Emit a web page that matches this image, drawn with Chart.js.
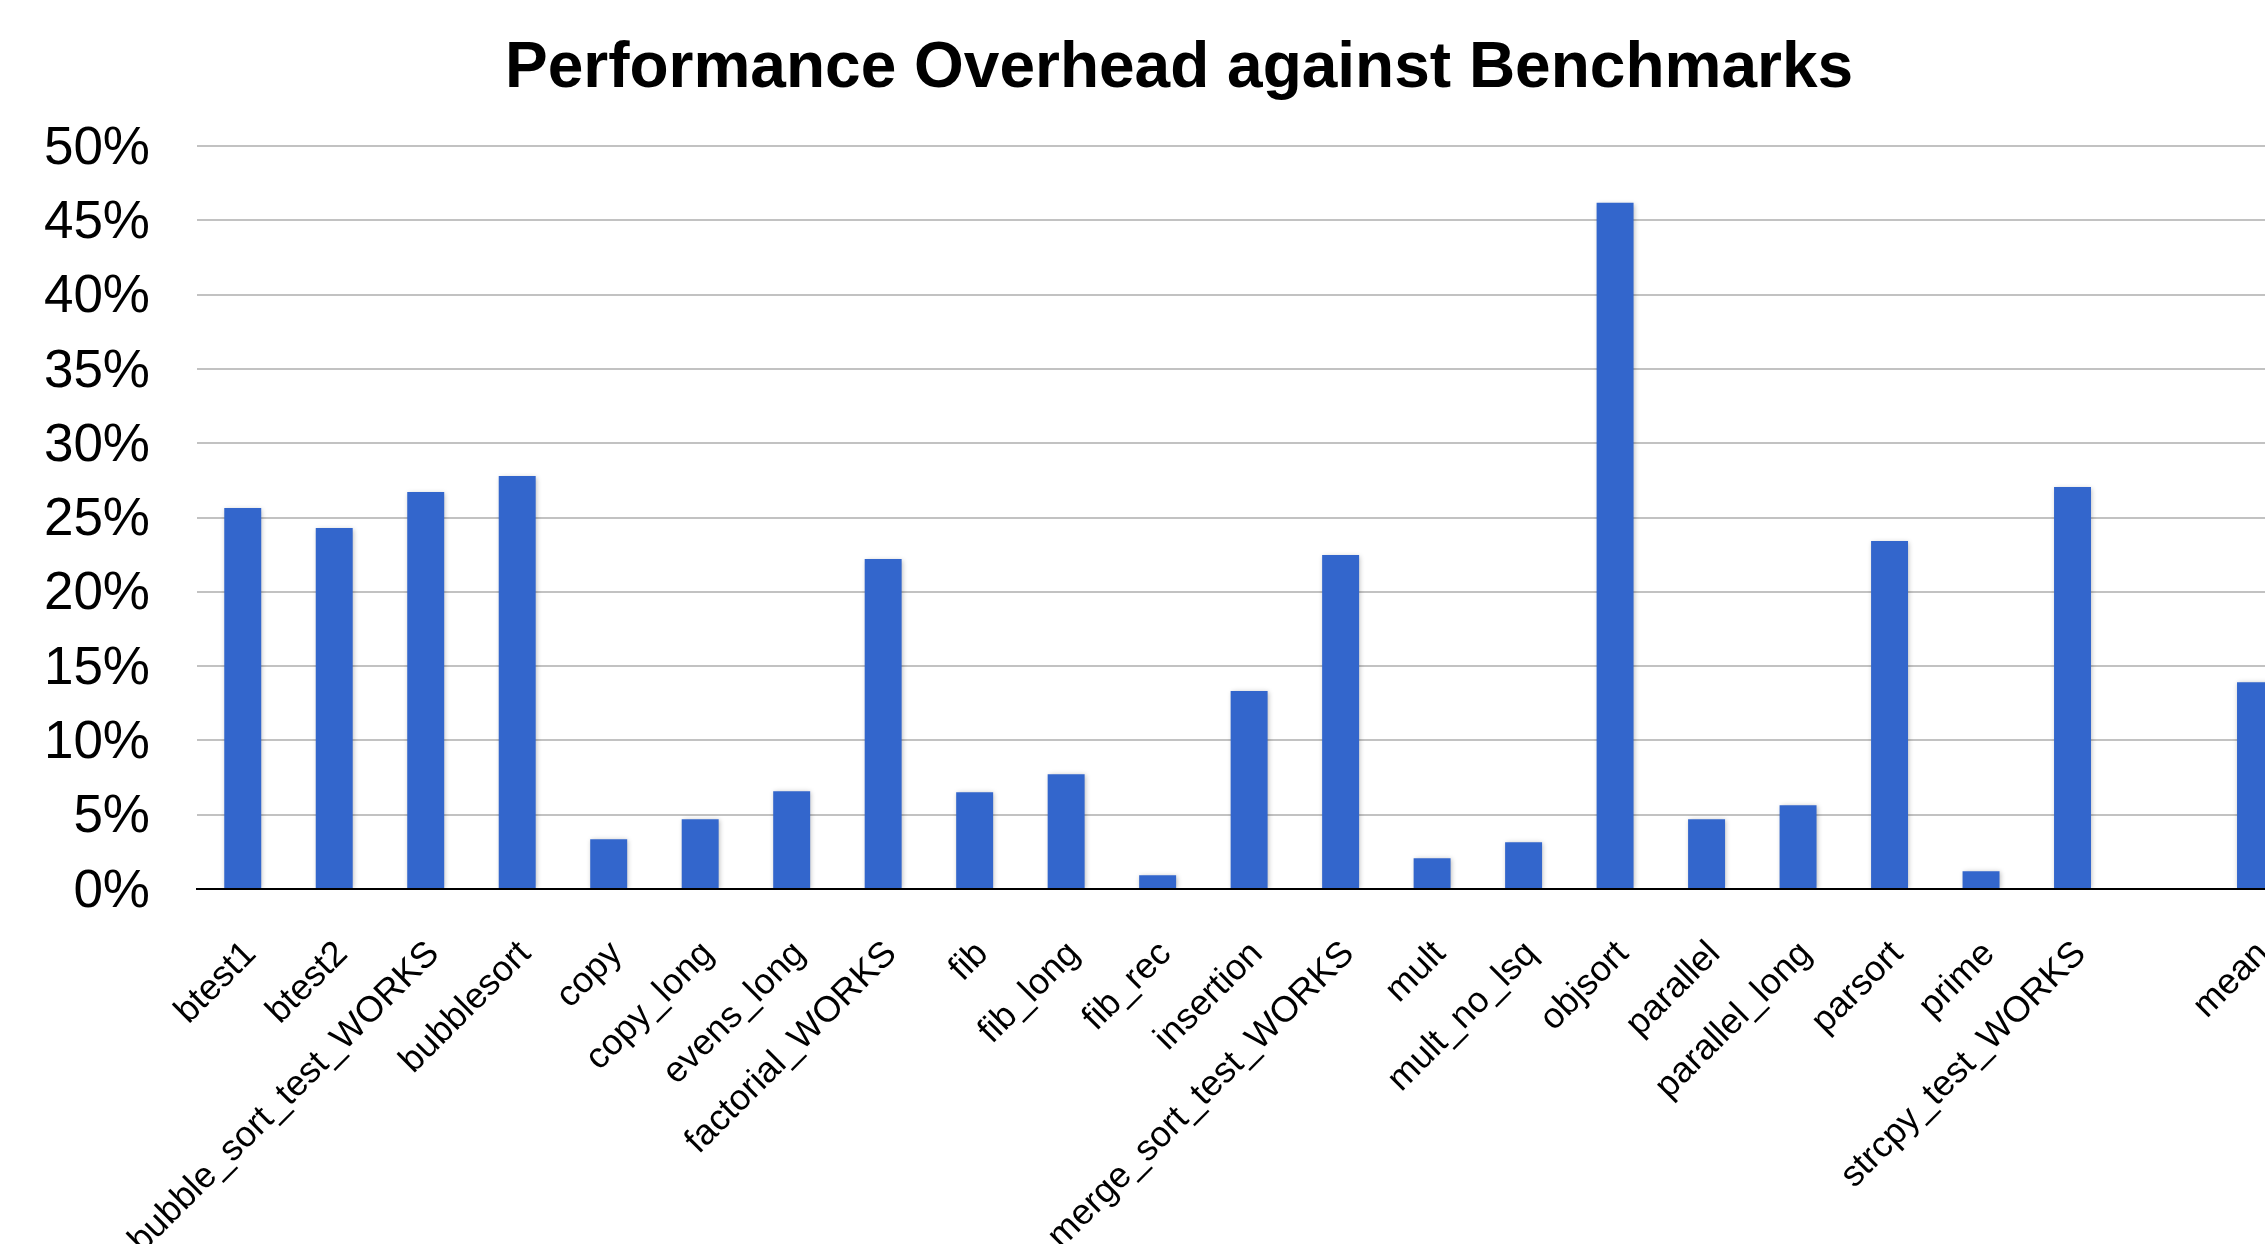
<!DOCTYPE html>
<html>
<head>
<meta charset="utf-8">
<title>Performance Overhead against Benchmarks</title>
<script src="https://cdn.jsdelivr.net/npm/chart.js@4.4.1/dist/chart.umd.min.js"></script>
<style>
  html, body { margin: 0; padding: 0; background: #ffffff; overflow: hidden; }
  #wrap { width: 2358px; height: 1244px; }
  canvas { display: block; }
</style>
</head>
<body>
<div id="wrap"><canvas id="chart" width="2358" height="1244"></canvas></div>
<script>
// Benchmarks (an empty slot separates the individual runs from the mean)
const benchmarks = [
  'btest1', 'btest2', 'bubble_sort_test_WORKS', 'bubblesort', 'copy', 'copy_long',
  'evens_long', 'factorial_WORKS', 'fib', 'fib_long', 'fib_rec', 'insertion',
  'merge_sort_test_WORKS', 'mult', 'mult_no_lsq', 'objsort', 'parallel',
  'parallel_long', 'parsort', 'prime', 'strcpy_test_WORKS', '', 'mean'
];

// Overhead in percent for each benchmark
const overheadPct = [
  25.64, 24.30, 26.72, 27.80, 3.35, 4.69,
  6.58, 22.21, 6.51, 7.72, 0.92, 13.32,
  22.48, 2.07, 3.14, 46.18, 4.69,
  5.64, 23.42, 1.19, 27.06, null, 13.92
];

// Value axis ticks
const yTicks = [0, 5, 10, 15, 20, 25, 30, 35, 40, 45, 50];

const chartTitle = 'Performance Overhead against Benchmarks';
const FONT = '"Liberation Sans", Arial, Helvetica, sans-serif';

// soft drop shadow under the bars
const barShadow = {
  id: 'barShadow',
  beforeDatasetsDraw(chart) {
    const ctx = chart.ctx;
    ctx.save();
    ctx.shadowColor = 'rgba(0, 0, 0, 0.28)';
    ctx.shadowBlur = 5;
    ctx.shadowOffsetX = 1;
    ctx.shadowOffsetY = 1;
  },
  afterDatasetsDraw(chart) {
    chart.ctx.restore();
  }
};

new Chart(document.getElementById('chart'), {
  type: 'bar',
  data: {
    labels: benchmarks,
    datasets: [{
      label: 'Overhead',
      data: overheadPct,
      backgroundColor: '#3366cc',
      borderWidth: 0,
      categoryPercentage: 1.0,
      barPercentage: 0.404
    }]
  },
  options: {
    responsive: false,
    animation: false,
    devicePixelRatio: 1,
    layout: { padding: 0 },
    plugins: {
      legend: { display: false },
      tooltip: { enabled: false },
      title: {
        display: true,
        text: chartTitle,
        color: '#000000',
        font: { family: FONT, size: 64, weight: 'bold' },
        padding: { top: 31, bottom: 38.2 }
      }
    },
    scales: {
      x: {
        grid: { display: false, drawTicks: false },
        border: { display: true, color: '#000000', width: 2 },
        ticks: {
          autoSkip: false,
          minRotation: 45,
          maxRotation: 45,
          padding: 44,
          labelOffset: 8,
          color: '#000000',
          font: { family: FONT, size: 36 }
        },
        afterFit(scale) { scale.height = 355; }
      },
      y: {
        min: yTicks[0],
        max: yTicks[yTicks.length - 1],
        afterBuildTicks(scale) {
          scale.ticks = yTicks.map(v => ({ value: v }));
        },
        grid: {
          drawTicks: false,
          lineWidth: 2,
          color: ctx => (ctx.tick && ctx.tick.value === 0) ? '#000000' : '#c2c2c2'
        },
        border: { display: false },
        ticks: {
          padding: 47,
          labelOffset: 3,
          color: '#000000',
          font: { family: FONT, size: 53 },
          callback: v => v + '%'
        },
        afterFit(scale) { scale.width = 197; }
      },
      // blank right-hand margin of the plot
      yRight: {
        position: 'right',
        display: true,
        grid: { display: false, drawTicks: false },
        border: { display: false },
        ticks: { display: false },
        afterFit(scale) { scale.width = 56.75; }
      }
    }
  },
  plugins: [barShadow]
});
</script>
</body>
</html>
